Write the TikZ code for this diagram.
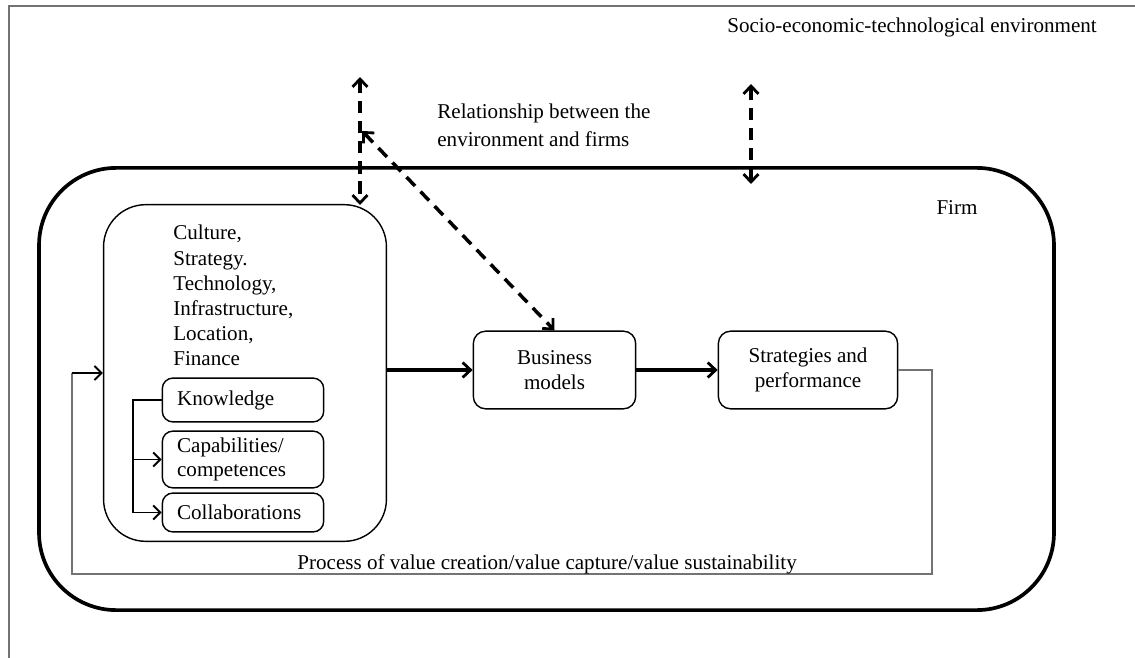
\documentclass[tikz,border=0pt]{standalone}
\usepackage{fontspec}
\setmainfont{Liberation Serif}
\usetikzlibrary{arrows.meta}
\tikzset{
  mytip/.tip={Straight Barb[length=4.5pt,width=8.5pt,line width=1.6pt]},
  smalltip/.tip={Straight Barb[length=4pt,width=8pt,line width=1.1pt]}
}
\begin{document}
\begin{tikzpicture}[x=0.02cm,y=-0.02cm,
  font=\fontsize{12}{14.3}\selectfont,
  boxline/.style={draw, line width=0.8pt},
  firmbox/.style={draw, line width=2.1pt, rounded corners=44pt, inner sep=0pt},
  bigbox/.style={boxline, rounded corners=24pt, inner sep=0pt},
  midbox/.style={boxline, rounded corners=7pt, inner sep=0pt, align=center, font=\fontsize{12}{13.8}\selectfont},
  smallbox/.style={boxline, rounded corners=6pt, inner sep=0pt, minimum width=162*0.5669pt, text width=75pt, align=left, font=\fontsize{12}{14}\selectfont},
  thickarrow/.style={line width=2pt, -{mytip}},
  envarrow/.style={line width=2pt, dash pattern=on 7pt off 4.5pt, {mytip}-{mytip}},
  thinarrow/.style={line width=0.9pt, -{smalltip}},
  loopline/.style={draw=black!55, line width=1pt},
  txt/.style={inner sep=0pt}
]
\useasboundingbox (0,0) rectangle (1135,658);
% outer frame
\draw[draw=black!55, line width=1pt] (1140,6) -- (9,6) -- (9,665);

% firm
\node[firmbox, minimum width=1019*0.5669pt, minimum height=444*0.5669pt] (firm) at (546.5,389) {};
\node[txt, anchor=center] (firmlabel) at (957,208) {Firm};

% left big box
\node[bigbox, minimum width=284*0.5669pt, minimum height=338*0.5669pt] (lbox) at (245,373) {};
\node[txt, anchor=north west, align=left] (lboxtext) at (173,225)
  {Culture,\\Strategy.\\Technology,\\Infrastructure,\\Location,\\Finance};

% small boxes
\node[smallbox, minimum height=44*0.5669pt] (know) at (243,400) {Knowledge};
\node[smallbox, minimum height=57*0.5669pt] (capa) at (243,459.5) {Capabilities/\\competences};
\node[smallbox, minimum height=39*0.5669pt] (coll) at (243,512.5) {Collaborations};

% bracket
\coordinate (br1) at (133,400);
\draw[line width=0.9pt] (know.west |- br1) -- (br1) -- (br1 |- coll.west);
\draw[thinarrow] (br1 |- capa.west) -- (capa.west);
\draw[thinarrow] (br1 |- coll.west) -- (coll.west);

% business models and strategies
\node[midbox, minimum width=163*0.5669pt, minimum height=78*0.5669pt] (bm) at (554.5,370) {Business\\models};
\node[midbox, minimum width=180*0.5669pt, minimum height=78*0.5669pt] (sp) at (808,370) {Strategies and\\performance};

\draw[thickarrow] (lbox.east |- bm.west) -- (bm.west);
\draw[thickarrow] (bm.east) -- (sp.west);

% feedback loop
\coordinate (fb1) at (932,370);
\coordinate (fb2) at (932,574);
\coordinate (fb3) at (72,574);
\coordinate (fb4) at (72,373);
\draw[loopline] (sp.east) -- (fb1) -- (fb2) -- (fb3) -- (fb4);
\draw[thinarrow] (fb4) -- (fb4 -| lbox.west);
\node[txt, anchor=base west] (proc) at (297,569)
  {Process of value creation/value capture/value sustainability};

% environment
\node[txt, anchor=base west] (env) at (727,33)
  {Socio-economic-technological environment};
\node[txt, anchor=north west, align=left, font=\fontsize{12}{15.4}\selectfont] (rel) at (437,104)
  {Relationship between the\\environment and firms};

\coordinate (e1t) at (360,77);
\coordinate (e1b) at (360,205);
\coordinate (e2t) at (362,131);
\coordinate (e3t) at (751,84);
\coordinate (e3b) at (751,184);
\draw[envarrow] (e1t) -- (e1b);
\draw[envarrow] (e2t) -- (bm.north);
\draw[envarrow] (e3t) -- (e3b);
\end{tikzpicture}
\end{document}
